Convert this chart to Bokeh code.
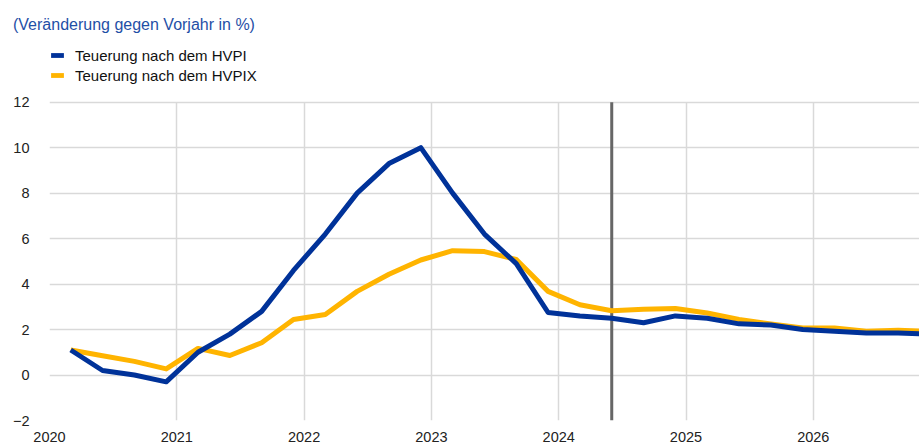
from bokeh.plotting import figure
from bokeh.models import Legend, LegendItem, FixedTicker, Range1d, Title, Grid
from bokeh.embed import file_html
from bokeh.resources import INLINE

# Quarterly data, 2020Q1 .. 2026Q4
years = [2020, 2021, 2022, 2023, 2024, 2025, 2026]
quarters = [1, 2, 3, 4]
hvpi = [1.1, 0.2, 0.0, -0.3,
        1.0, 1.8, 2.8, 4.6,
        6.2, 8.0, 9.3, 10.0,
        8.0, 6.2, 4.9, 2.75,
        2.6, 2.5, 2.3, 2.6,
        2.5, 2.25, 2.2, 2.0,
        1.93, 1.85, 1.85, 1.8]
hvpix = [1.1, 0.85, 0.6, 0.27,
         1.17, 0.86, 1.42, 2.44,
         2.66, 3.68, 4.43, 5.06,
         5.47, 5.43, 5.08, 3.68,
         3.09, 2.83, 2.89, 2.93,
         2.73, 2.44, 2.25, 2.07,
         2.07, 1.93, 1.97, 1.92]
projection_start = (2024, 2)  # year, quarter
x_ticks = years
y_ticks = [-2, 0, 2, 4, 6, 8, 10, 12]
title_text = "(Veränderung gegen Vorjahr in %)"
label_hvpi = "Teuerung nach dem HVPI"
label_hvpix = "Teuerung nach dem HVPIX"

# quarter-end month positions on a year axis
xs = [y + (3 * q - 1) / 12 for y in years for q in quarters]
x_proj = projection_start[0] + (3 * projection_start[1] - 1) / 12

BLUE = "#003299"
YELLOW = "#FFB400"
GRID = "#d9d9d9"
FONT = "Liberation Sans"

W, H = 919, 444
BL, BT, BB = 49, 34, 24
fw = W - BL
fh = H - BT - BB
px_per_year = 127.3
x_end = 2020 + fw / px_per_year
top_of_grid_px = 101.7 - BT          # distance from frame top to the 12 line
ppu = (fh - top_of_grid_px) / (y_ticks[-1] - y_ticks[0])
y_end = y_ticks[-1] + top_of_grid_px / ppu

p = figure(width=W, height=H, output_backend="svg", toolbar_location=None,
           x_range=Range1d(2020, x_end), y_range=Range1d(y_ticks[0], y_end),
           min_border_left=BL, min_border_right=0, min_border_top=BT,
           min_border_bottom=BB)
p.outline_line_color = None
p.background_fill_color = "white"

for ax in (p.xaxis[0], p.yaxis[0]):
    ax.axis_line_color = None
    ax.major_tick_line_color = None
    ax.minor_tick_line_color = None
    ax.major_label_text_font = FONT
    ax.major_label_text_font_size = "14.5px"
    ax.major_label_text_color = "#222222"
p.xaxis[0].ticker = FixedTicker(ticks=x_ticks)
p.yaxis[0].ticker = FixedTicker(ticks=y_ticks)
p.xaxis[0].major_label_standoff = 5
p.yaxis[0].major_label_standoff = 14

p.ygrid[0].ticker = FixedTicker(ticks=y_ticks)
p.ygrid[0].grid_line_color = GRID
p.ygrid[0].grid_line_width = 1.5
if "cross_bounds" in Grid.properties():
    p.xgrid[0].ticker = FixedTicker(ticks=x_ticks)
    p.xgrid[0].cross_bounds = (y_ticks[0], y_ticks[-1])
    p.xgrid[0].grid_line_color = GRID
    p.xgrid[0].grid_line_width = 1.5
else:
    p.xgrid[0].visible = False
    p.segment(x0=x_ticks, x1=x_ticks, y0=[y_ticks[0]] * len(x_ticks),
              y1=[y_ticks[-1]] * len(x_ticks), line_color=GRID, line_width=1.5)

# start of projection horizon
p.segment(x0=[x_proj], x1=[x_proj], y0=[y_ticks[0]], y1=[y_ticks[-1]],
          line_color="#666666", line_width=3)

p.line(xs, hvpix, line_color=YELLOW, line_width=5, line_join="round")
p.line(xs, hvpi, line_color=BLUE, line_width=5, line_join="round")

# legend swatches
nan = float("nan")
q1 = p.quad(left=[nan], right=[nan], top=[nan], bottom=[nan], fill_color=BLUE, line_color=None)
q2 = p.quad(left=[nan], right=[nan], top=[nan], bottom=[nan], fill_color=YELLOW, line_color=None)
legend_top_px = 45 - BT
legend = Legend(items=[LegendItem(label=label_hvpi, renderers=[q1]),
                       LegendItem(label=label_hvpix, renderers=[q2])],
                location=(0, fh - legend_top_px - 40), orientation="vertical",
                glyph_width=16, glyph_height=6, label_standoff=10,
                label_text_font=FONT, label_text_font_size="15px",
                label_text_color="#111111", label_height=20, spacing=0,
                padding=0, margin=0, border_line_color=None,
                background_fill_alpha=0)
p.add_layout(legend)

p.title = Title(text=title_text, align="left", offset=-36.5, standoff=4,
                text_font=FONT, text_font_size="16px", text_font_style="normal",
                text_color="#1f4fa6")

open("out.html", "w").write(file_html(p, INLINE))
